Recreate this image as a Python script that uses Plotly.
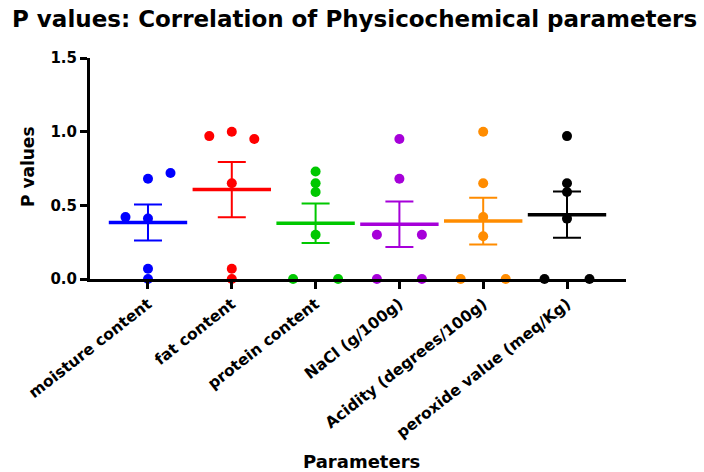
import numpy as np
import plotly.graph_objects as go

# ---------------- data ----------------
categories = ["moisture content", "fat content", "protein content",
              "NaCl (g/100g)", "Acidity (degrees/100g)", "peroxide value (meq/Kg)"]
moisture = [0.41, 0.42, 0.68, 0.72, 0.07, 0.0]
fat = [1.0, 0.97, 0.95, 0.65, 0.07, 0.0]
protein = [0.73, 0.65, 0.59, 0.30, 0.0, 0.0]
nacl = [0.95, 0.68, 0.30, 0.30, 0.0, 0.0]
acidity = [1.0, 0.65, 0.42, 0.29, 0.0, 0.0]
peroxide = [0.97, 0.65, 0.59, 0.41, 0.0, 0.0]
series = [moisture, fat, protein, nacl, acidity, peroxide]
colors = ["#0000FF", "#FF0000", "#00C800", "#A600D9", "#FF8C00", "#000000"]
y_ticks = [0.0, 0.5, 1.0, 1.5]

# ---------------- layout constants ----------------
W, H = 704, 472
L, R, T, B = 90, 78, 58, 193
plot_w = W - L - R
plot_h = H - T - B
x_range = [-0.692, 5.704]
y_range = [0, 1.5]
px_per_x = plot_w / (x_range[1] - x_range[0])
px_per_y = plot_h / (y_range[1] - y_range[0])
MARKER = 10
col_step = 22.5 / px_per_x      # horizontal spacing of swarm columns (data units)
tol = 8.0 / px_per_y            # vertical overlap threshold (data units)
FONT = "DejaVu Sans"


def swarm_columns(vals):
    """GraphPad-like scatter spreading: ties spread symmetrically,
    overlapping points pushed alternately left/right."""
    n = len(vals)
    cols = [None] * n
    groups = {}
    for i, v in enumerate(vals):
        groups.setdefault(v, []).append(i)
    for v, idx in groups.items():
        k = len(idx)
        if k > 1:
            if k % 2 == 0:
                offs = [-(j) for j in range(k // 2, 0, -1)] + list(range(1, k // 2 + 1))
            else:
                offs = list(range(-(k // 2), k // 2 + 1))
            for i, o in zip(idx, offs):
                cols[i] = o
    shift = -1

    def conflict(i, c):
        return any(cols[j] == c and abs(vals[j] - vals[i]) < tol
                   for j in range(n) if j != i and cols[j] is not None)

    for i in range(n):
        if cols[i] is not None:
            continue
        c = 0
        if conflict(i, c):
            c = shift
            shift = -shift
            step = 1
            while conflict(i, c):
                step += 1
                c = int(np.sign(c)) * step
        cols[i] = c
    return cols


fig = go.Figure()

for k, (vals, col) in enumerate(zip(series, colors)):
    v = np.array(vals, dtype=float)
    cols = swarm_columns(vals)
    xs = [k + c * col_step for c in cols]
    fig.add_trace(go.Scatter(
        x=xs, y=v, mode="markers",
        marker=dict(size=MARKER, color=col, line=dict(width=0)),
        cliponaxis=False, showlegend=False, hoverinfo="y"))
    mean = v.mean()
    sem = v.std(ddof=1) / np.sqrt(len(v))
    fig.add_trace(go.Scatter(
        x=[k], y=[mean], mode="markers",
        marker=dict(symbol="line-ew-open", size=56, color=col,
                    line=dict(width=3.5, color=col)),
        error_y=dict(type="data", array=[sem], visible=True,
                     thickness=2, width=14, color=col),
        cliponaxis=False, showlegend=False, hoverinfo="y"))

fig.update_layout(
    width=W, height=H,
    margin=dict(l=L, r=R, t=T, b=B, autoexpand=False),
    paper_bgcolor="white", plot_bgcolor="white",
    font=dict(family=FONT, color="black"),
    title=dict(text="<b>P values: Correlation of Physicochemical parameters</b>",
               x=12 / W, xanchor="left", xref="container",
               y=1 - 19 / H, yanchor="middle", yref="container",
               font=dict(size=23, family=FONT, color="black")),
    xaxis=dict(range=x_range, showline=True, linecolor="black", linewidth=3,
               ticks="outside", ticklen=7, tickwidth=3, tickcolor="black",
               tickvals=list(range(len(categories))), ticktext=categories,
               tickangle=-38, tickfont=dict(size=15.5, family=FONT, weight="bold"),
               showgrid=False, zeroline=False, fixedrange=True, automargin=False),
    yaxis=dict(range=y_range, showline=True, linecolor="black", linewidth=3,
               ticks="outside", ticklen=7, tickwidth=3, tickcolor="black",
               tickvals=y_ticks, tickformat=".1f",
               tickfont=dict(size=15, family=FONT, weight="bold"),
               showgrid=False, zeroline=False, fixedrange=True, automargin=False),
    annotations=[
        dict(text="<b>P values</b>", xref="paper", yref="paper",
             x=(28 - L) / plot_w, y=(H - B - 167) / plot_h,
             xanchor="center", yanchor="middle", textangle=-90,
             showarrow=False, font=dict(size=17, family=FONT)),
        dict(text="<b>Parameters</b>", xref="paper", yref="paper",
             x=(361 - L) / plot_w, y=(H - B - 461) / plot_h,
             xanchor="center", yanchor="middle",
             showarrow=False, font=dict(size=18, family=FONT)),
    ],
)

fig.write_html("out.html",
               config={"displayModeBar": False},
               post_script="document.body.style.margin='0';document.body.style.overflow='hidden';")
